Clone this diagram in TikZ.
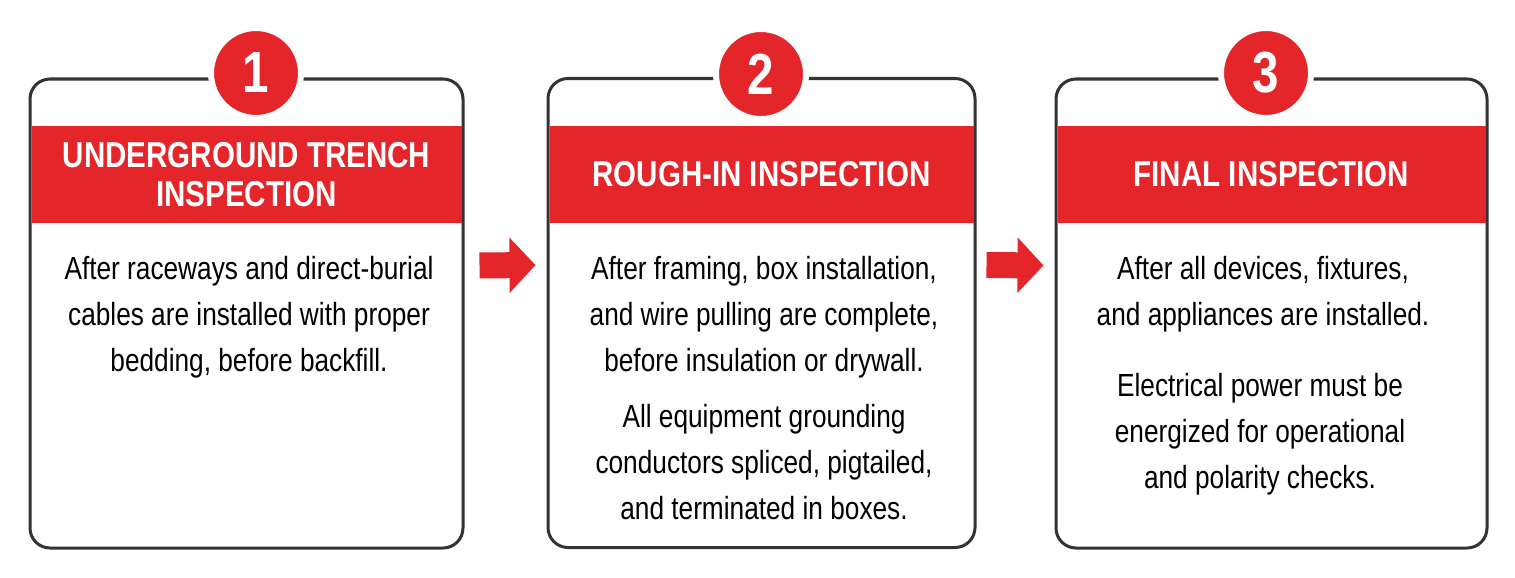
\documentclass[tikz,border=0pt]{standalone}
\usepackage{fontspec}
\setmainfont{Liberation Sans}[FakeStretch=0.82]
\usepackage{tikz}
\usetikzlibrary{arrows.meta, positioning, calc}
\usepackage{xcolor}
\definecolor{stepred}{HTML}{E4262B}
\definecolor{edge}{HTML}{333333}

\begin{document}
\begin{tikzpicture}[
    x=1pt, y=-1pt,
    card/.style={rectangle, draw=edge, line width=3pt, rounded corners=20pt, minimum height=469pt, inner sep=0pt},
    band/.style={rectangle, fill=stepred, minimum height=97pt, inner sep=0pt},
    badge/.style={circle, fill=stepred, draw=white, line width=6pt, minimum size=90pt, inner sep=0pt, text=white, font=\fontsize{58}{58}\selectfont\bfseries},
    head/.style={text=white, align=center, font=\fontsize{36}{39}\selectfont\bfseries},
    body/.style={align=center, font=\fontsize{32}{46}\selectfont},
    flow/.style={draw=stepred, line width=26pt, -{Triangle[length=26pt, width=54pt]}},
]
\useasboundingbox[fill=white] (0,0) rectangle (1515,578);

% Cards
\node[card, minimum width=433pt] (c1) at (246.5,313.5) {};
\node[card, minimum width=427pt] (c2) at (761.5,313) {};
\node[card, minimum width=431pt] (c3) at (1271.5,313.5) {};

% Red bands
\node[band, minimum width=430pt] (b1) at (246.5,174.5) {};
\node[band, minimum width=424pt] (b2) at (761.5,174.5) {};
\node[band, minimum width=428pt] (b3) at (1271.5,174.5) {};

% Numbers
\node[badge] (n1) at (256,73) {1};
\node[badge] (n2) at (761,74) {2};
\node[badge] (n3) at (1266,73) {3};

% Titles
\node[head] (t1) at (b1) {UNDERGROUND TRENCH\\INSPECTION};
\node[head] (t2) at (b2) {ROUGH-IN INSPECTION};
\node[head] (t3) at (b3) {FINAL INSPECTION};

% Texts
\node[body, anchor=north] (p1) at (249,253) {After raceways and direct-burial\\cables are installed with proper\\bedding, before backfill.};
\node[body, anchor=north] (p2) at (764,253) {After framing, box installation,\\and wire pulling are complete,\\before insulation or drywall.};
\node[body, anchor=north] (p2b) at (764,401) {All equipment grounding\\conductors spliced, pigtailed,\\and terminated in boxes.};
\node[body, anchor=north] (p3) at (1263,253) {After all devices, fixtures,\\and appliances are installed.};
\node[body, anchor=north] (p3b) at (1260,370) {Electrical power must be\\energized for operational\\and polarity checks.};

% Arrows
\draw[flow, shorten <=15pt, shorten >=11pt] ($(c1.east)+(0,-48)$) -- ($(c2.west)+(0,-48)$);
\draw[flow, shorten <=10pt, shorten >=11pt] ($(c2.east)+(0,-48)$) -- ($(c3.west)+(0,-48)$);

\end{tikzpicture}
\end{document}
